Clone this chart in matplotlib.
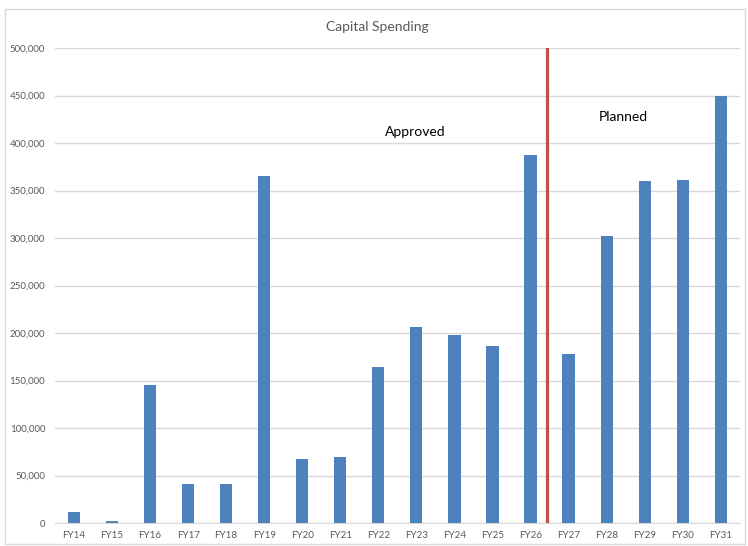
import matplotlib.pyplot as plt
from matplotlib.patches import Rectangle
from matplotlib.ticker import FuncFormatter

years = ['FY14', 'FY15', 'FY16', 'FY17', 'FY18', 'FY19', 'FY20', 'FY21', 'FY22',
         'FY23', 'FY24', 'FY25', 'FY26', 'FY27', 'FY28', 'FY29', 'FY30', 'FY31']
spending = [12000, 2000, 145000, 41000, 41000, 365000, 67000, 69000, 164000,
            206000, 198000, 186000, 387000, 178000, 302000, 360000, 361000, 450000]

# approved / planned split sits between FY26 and FY27
split_pos = 12.42

plt.rcParams['font.family'] = ['Lato', 'DejaVu Sans']

fig = plt.figure(figsize=(7.48, 5.46), dpi=100)
ax = fig.add_axes([0.0735, 0.0421, 0.9155, 0.8699])

x = range(len(years))
ax.bar(x, spending, width=0.32, color='#4F81BD', zorder=3)
ax.axvline(split_pos, color='#C0504D', linewidth=2.3, zorder=4)

ax.set_xlim(-0.5, len(years) - 0.5)
ax.set_ylim(0, 500000)
ax.set_yticks(range(0, 500001, 50000))
ax.yaxis.set_major_formatter(FuncFormatter(lambda v, p: f'{int(v):,}'))
ax.set_xticks(list(x))
ax.set_xticklabels(years)

ax.grid(axis='y', color='#D9D9D9', linewidth=1, zorder=0)
for side in ['left', 'right', 'top']:
    ax.spines[side].set_visible(False)
ax.spines['bottom'].set_color('#D9D9D9')
ax.tick_params(axis='both', length=0, labelsize=7, colors='#595959')
ax.tick_params(axis='y', pad=7)
ax.tick_params(axis='x', pad=6)

ax.text(8.96, 412000, 'Approved', ha='center', va='center', fontsize=10, color='black')
ax.text(14.45, 427000, 'Planned', ha='center', va='center', fontsize=10, color='black')

fig.text(0.505, 0.950, 'Capital Spending', ha='center', va='center',
         fontsize=10, color='#595959')

# light chart-area border
fig.patches.append(Rectangle((0.007, 0.004), 0.989, 0.98, transform=fig.transFigure,
                             fill=False, edgecolor='#D9D9D9', linewidth=1))

fig.savefig('out.png', dpi=100)
